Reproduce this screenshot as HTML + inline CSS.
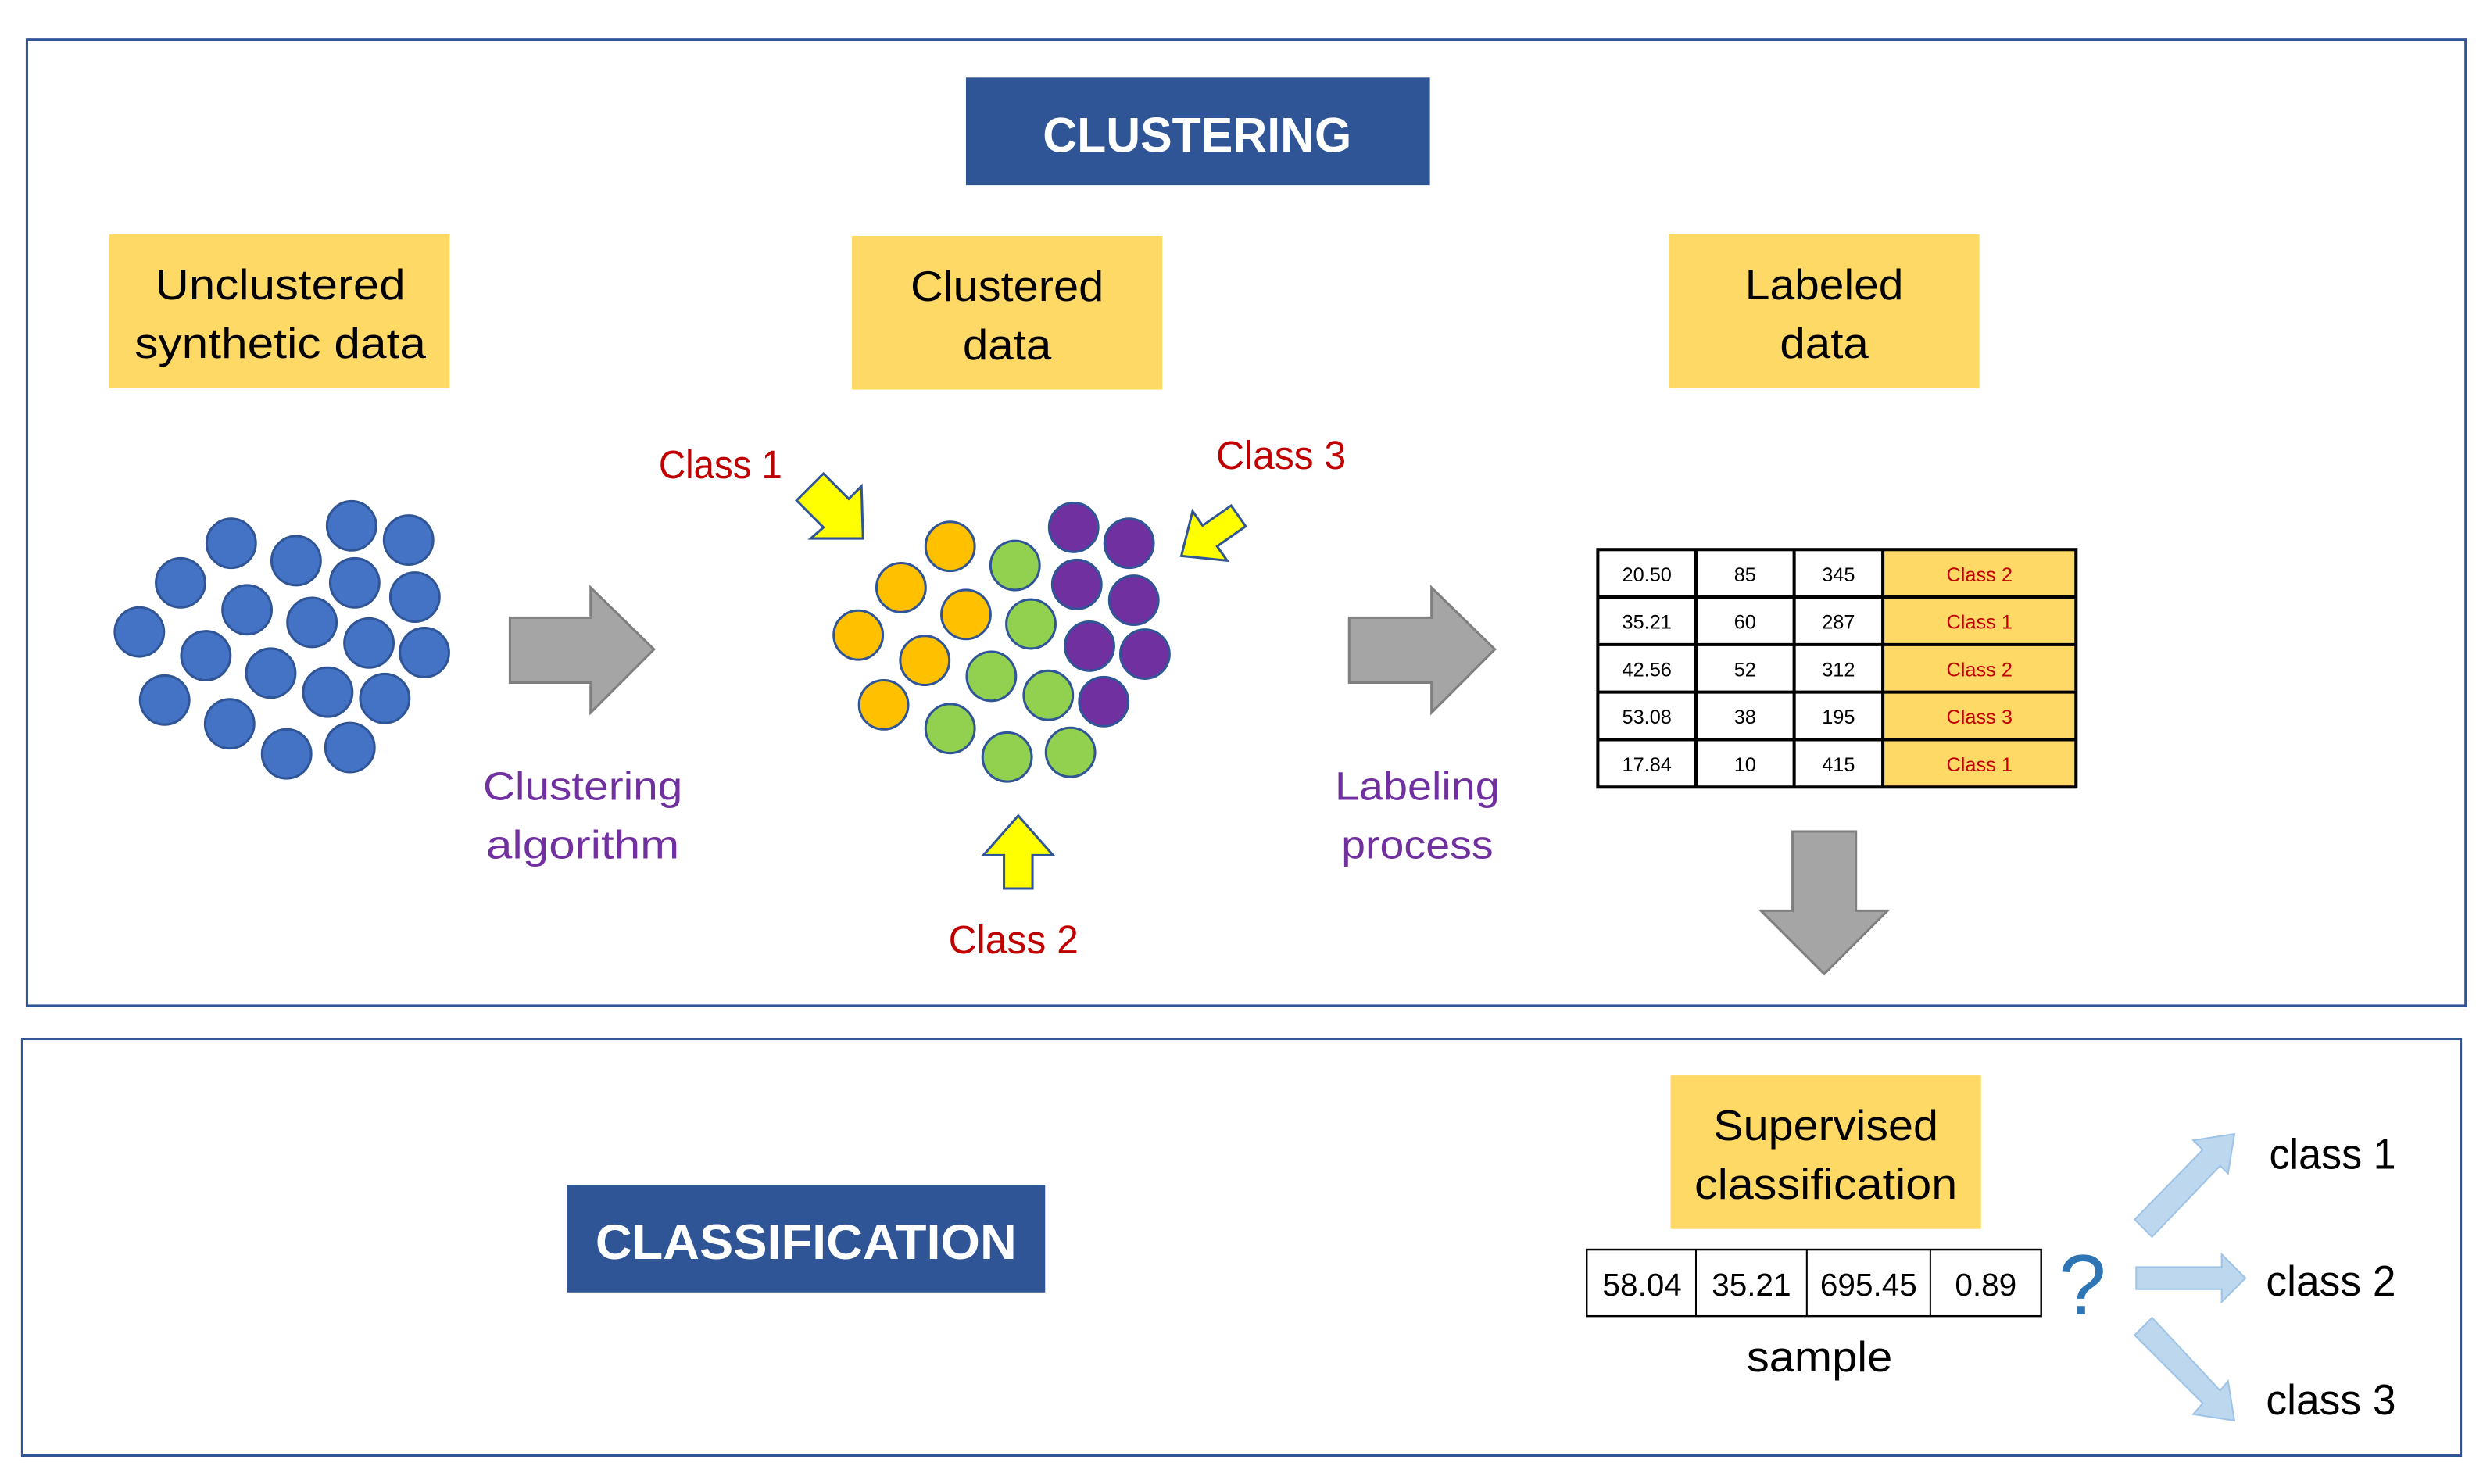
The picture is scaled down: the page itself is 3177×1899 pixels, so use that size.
<!DOCTYPE html>
<html><head><meta charset="utf-8"><style>
html,body{margin:0;padding:0;background:#fff;width:3177px;height:1899px;overflow:hidden}
svg{display:block}
text{font-family:"Liberation Sans",sans-serif}
</style></head><body>
<svg width="3177" height="1899" viewBox="0 0 1568 937" preserveAspectRatio="none" xmlns="http://www.w3.org/2000/svg">
<rect x="17" y="25" width="1540" height="610" fill="none" stroke="#2F5597" stroke-width="1.5"/>
<rect x="14" y="656" width="1540" height="263" fill="none" stroke="#2F5597" stroke-width="1.5"/>

<rect x="610" y="49" width="293" height="68" fill="#2F5597"/>
<text x="756" y="96" font-size="31" font-weight="bold" fill="#fff" text-anchor="middle" textLength="195" lengthAdjust="spacingAndGlyphs">CLUSTERING</text>
<rect x="358" y="748" width="302" height="68" fill="#2F5597"/>
<text x="509" y="795" font-size="31" font-weight="bold" fill="#fff" text-anchor="middle" textLength="266" lengthAdjust="spacingAndGlyphs">CLASSIFICATION</text>

<g fill="#FFD966">
<rect x="69" y="148" width="215" height="97"/>
<rect x="538" y="149" width="196" height="97"/>
<rect x="1054" y="148" width="196" height="97"/>
<rect x="1055" y="679" width="196" height="97"/>
</g>
<g font-size="27" fill="#000" text-anchor="middle">
<text x="177" y="189" textLength="158" lengthAdjust="spacingAndGlyphs">Unclustered</text>
<text x="177" y="226" textLength="184" lengthAdjust="spacingAndGlyphs">synthetic data</text>
<text x="636" y="190" textLength="122" lengthAdjust="spacingAndGlyphs">Clustered</text>
<text x="636" y="227" textLength="56" lengthAdjust="spacingAndGlyphs">data</text>
<text x="1152" y="189" textLength="100" lengthAdjust="spacingAndGlyphs">Labeled</text>
<text x="1152" y="226" textLength="56" lengthAdjust="spacingAndGlyphs">data</text>
<text x="1153" y="720" textLength="142" lengthAdjust="spacingAndGlyphs">Supervised</text>
<text x="1153" y="757" textLength="166" lengthAdjust="spacingAndGlyphs">classification</text>
</g>

<g fill="#4472C4" stroke="#2F5597" stroke-width="1.5">
<circle cx="146" cy="343" r="15.5"/><circle cx="222" cy="332" r="15.5"/><circle cx="258" cy="341" r="15.5"/>
<circle cx="114" cy="368" r="15.5"/><circle cx="187" cy="354" r="15.5"/><circle cx="224" cy="368" r="15.5"/>
<circle cx="262" cy="377" r="15.5"/><circle cx="88" cy="399" r="15.5"/><circle cx="156" cy="385" r="15.5"/>
<circle cx="197" cy="393" r="15.5"/><circle cx="233" cy="406" r="15.5"/><circle cx="268" cy="412" r="15.5"/>
<circle cx="130" cy="414" r="15.5"/><circle cx="171" cy="425" r="15.5"/><circle cx="207" cy="437" r="15.5"/>
<circle cx="243" cy="441" r="15.5"/><circle cx="104" cy="442" r="15.5"/><circle cx="145" cy="457" r="15.5"/>
<circle cx="181" cy="476" r="15.5"/><circle cx="221" cy="472" r="15.5"/>
</g>
<g stroke="#2F5597" stroke-width="1.5">
<g fill="#FFC000">
<circle cx="600" cy="345" r="15.5"/><circle cx="569" cy="371" r="15.5"/><circle cx="610" cy="388" r="15.5"/>
<circle cx="542" cy="401" r="15.5"/><circle cx="584" cy="417" r="15.5"/><circle cx="558" cy="445" r="15.5"/>
</g>
<g fill="#92D050">
<circle cx="641" cy="357" r="15.5"/><circle cx="651" cy="394" r="15.5"/><circle cx="626" cy="427" r="15.5"/>
<circle cx="662" cy="439" r="15.5"/><circle cx="600" cy="460" r="15.5"/><circle cx="636" cy="478" r="15.5"/>
<circle cx="676" cy="475" r="15.5"/>
</g>
<g fill="#7030A0">
<circle cx="678" cy="333" r="15.5"/><circle cx="713" cy="343" r="15.5"/><circle cx="680" cy="369" r="15.5"/>
<circle cx="716" cy="379" r="15.5"/><circle cx="688" cy="408" r="15.5"/><circle cx="723" cy="413" r="15.5"/>
<circle cx="697" cy="443" r="15.5"/>
</g>
</g>

<!-- yellow arrows -->
<g fill="#FFFF00" stroke="#2F5597" stroke-width="1.5" stroke-linejoin="miter">
<polygon points="503,316 520,299 536,315 544,307 545,340 512,340 520,333"/>
<g transform="translate(746,351) rotate(145)"><polygon points="0,0 -22,-19 -22,-8 -44,-8 -44,8 -22,8 -22,19"/></g>
<polygon points="643,515 665,540 652,540 652,561 634,561 634,540 621,540"/>
</g>

<!-- grey arrows -->
<g fill="#A5A5A5" stroke="#7F7F7F" stroke-width="1.5">
<polygon points="322,390 373,390 373,371 413,410 373,450 373,431 322,431"/>
<polygon points="852,390 904,390 904,371 944,410 904,450 904,431 852,431"/>
<polygon points="1132,525 1172,525 1172,575 1192,575 1152,615 1112,575 1132,575"/>
</g>

<g font-size="25" fill="#7030A0" text-anchor="middle">
<text x="368" y="505" textLength="126" lengthAdjust="spacingAndGlyphs">Clustering</text>
<text x="368" y="542" textLength="122" lengthAdjust="spacingAndGlyphs">algorithm</text>
<text x="895" y="505" textLength="104" lengthAdjust="spacingAndGlyphs">Labeling</text>
<text x="895" y="542" textLength="96" lengthAdjust="spacingAndGlyphs">process</text>
</g>
<g font-size="25" fill="#C00000" text-anchor="middle">
<text x="455" y="302" textLength="78" lengthAdjust="spacingAndGlyphs">Class 1</text>
<text x="809" y="296" textLength="82" lengthAdjust="spacingAndGlyphs">Class 3</text>
<text x="640" y="602" textLength="82" lengthAdjust="spacingAndGlyphs">Class 2</text>
</g>

<!-- table -->
<rect x="1189" y="347" width="122" height="150" fill="#FFD966"/>
<g stroke="#000" stroke-width="2" fill="none">
<rect x="1009" y="347" width="302" height="150"/>
<line x1="1009" y1="377" x2="1311" y2="377"/><line x1="1009" y1="407" x2="1311" y2="407"/>
<line x1="1009" y1="437" x2="1311" y2="437"/><line x1="1009" y1="467" x2="1311" y2="467"/>
<line x1="1071" y1="347" x2="1071" y2="497"/><line x1="1133" y1="347" x2="1133" y2="497"/>
<line x1="1189" y1="347" x2="1189" y2="497"/>
</g>
<g font-size="12.5" text-anchor="middle" fill="#000">
<text x="1040" y="367">20.50</text><text x="1102" y="367">85</text><text x="1161" y="367">345</text>
<text x="1040" y="397">35.21</text><text x="1102" y="397">60</text><text x="1161" y="397">287</text>
<text x="1040" y="427">42.56</text><text x="1102" y="427">52</text><text x="1161" y="427">312</text>
<text x="1040" y="457">53.08</text><text x="1102" y="457">38</text><text x="1161" y="457">195</text>
<text x="1040" y="487">17.84</text><text x="1102" y="487">10</text><text x="1161" y="487">415</text>
</g>
<g font-size="12.5" text-anchor="middle" fill="#C00000">
<text x="1250" y="367">Class 2</text><text x="1250" y="397">Class 1</text><text x="1250" y="427">Class 2</text>
<text x="1250" y="457">Class 3</text><text x="1250" y="487">Class 1</text>
</g>

<!-- sample -->
<g stroke="#000" stroke-width="1.2" fill="#fff">
<rect x="1002" y="789" width="287" height="42"/>
</g>
<g stroke="#000" stroke-width="1">
<line x1="1071" y1="789" x2="1071" y2="831"/><line x1="1141" y1="789" x2="1141" y2="831"/><line x1="1219" y1="789" x2="1219" y2="831"/>
</g>
<g font-size="20" text-anchor="middle" fill="#000">
<text x="1037" y="818">58.04</text><text x="1106" y="818">35.21</text><text x="1180" y="818">695.45</text><text x="1254" y="818">0.89</text>
</g>
<text x="1149" y="866" font-size="27" text-anchor="middle" fill="#000" textLength="92" lengthAdjust="spacingAndGlyphs">sample</text>
<text x="1315" y="830" font-size="54" text-anchor="middle" fill="#2E75B6">?</text>

<g fill="#BDD7EE" stroke="#9DC3E6" stroke-width="1">
<polygon points="1348,770 1391,726 1385,720 1411,716 1407,741 1402,736 1359,781"/>
<polygon points="1349,800 1403,800 1403,792 1418,807 1403,822 1403,814 1349,814"/>
<polygon points="1348,843 1391,886 1385,893 1411,897 1407,872 1402,878 1359,832"/>
</g>
<g font-size="27" fill="#000" text-anchor="middle">
<text x="1473" y="738" textLength="80" lengthAdjust="spacingAndGlyphs">class 1</text>
<text x="1472" y="818" textLength="82" lengthAdjust="spacingAndGlyphs">class 2</text>
<text x="1472" y="893" textLength="82" lengthAdjust="spacingAndGlyphs">class 3</text>
</g>
</svg>
</body></html>
